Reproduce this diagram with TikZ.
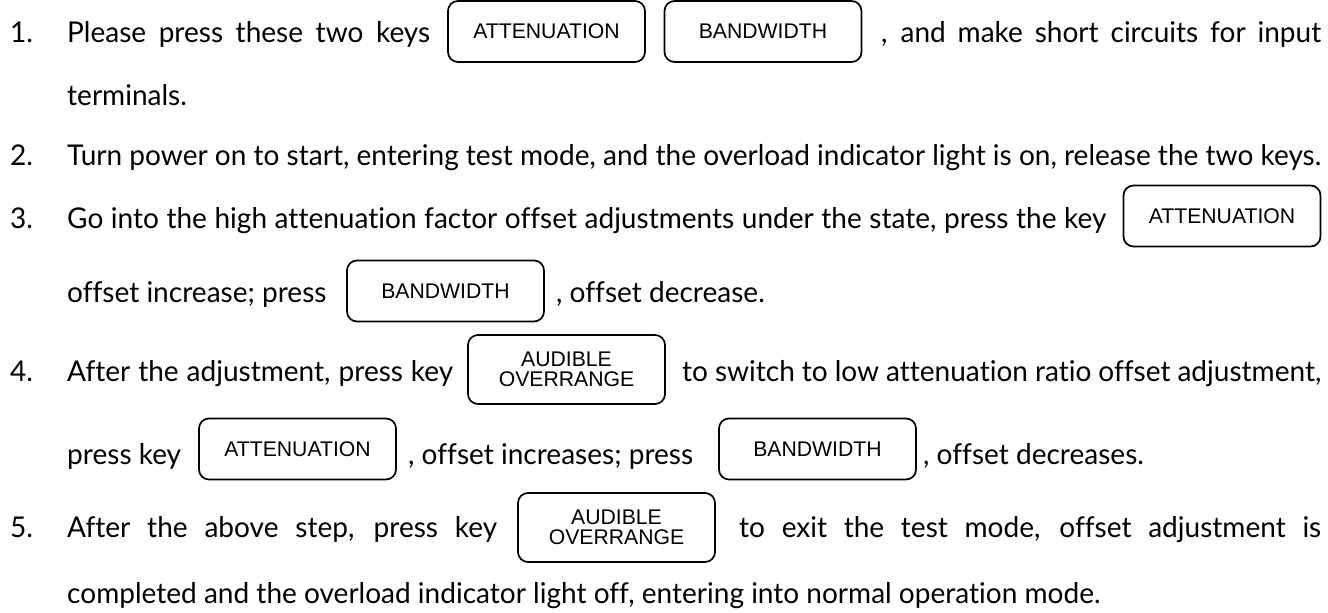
\documentclass[tikz,border=0pt]{standalone}
\usepackage{fontspec}
\setmainfont{Lato}[FakeStretch=0.98, Ligatures=NoCommon]
\newfontfamily\keyfont{Liberation Sans}
\usetikzlibrary{positioning}

\newcommand{\bodysize}{\fontsize{28.6}{34}\selectfont}

\tikzset{
	keybox/.style={draw, line width=1.7pt, rounded corners=10pt,
			minimum width=197pt, minimum height=61pt, inner sep=0pt,
			align=center, font=\keyfont\fontsize{21.2}{19.5}\selectfont},
	keyboxtall/.style={keybox, minimum height=69pt}
}
\tikzset{
	bodytext/.style={anchor=base west, inner sep=0pt, font=\bodysize}
}

\begin{document}
\begin{tikzpicture}[x=1pt, y=-1pt]

	\useasboundingbox (0,0) rectangle (1328,613);

	% the keys
	\node[keybox] (attA) at (546.5,31.5) {ATTENUATION};
	\node[keybox] (bwA) at (763,31.5) {BANDWIDTH};
	\node[keybox] (attB) at (1222,216) {ATTENUATION};
	\node[keybox] (bwB) at (445.5,291) {BANDWIDTH};
	\node[keyboxtall] (audA) at (566.5,369.5) {AUDIBLE\\OVERRANGE};
	\node[keybox] (attC) at (297.5,449) {ATTENUATION};
	\node[keybox] (bwC) at (817.5,449) {BANDWIDTH};
	\node[keyboxtall] (audB) at (616.5,527.5) {AUDIBLE\\OVERRANGE};

	% step 1
	\node[bodytext] (num1) at (10,42) {1.};
	\node[bodytext] (s1a) at (67,42) {\makebox[363pt][s]{Please press these two keys}};
	\node[bodytext] (s1b) at (881,42) {\makebox[440pt][s]{, and make short circuits for input}};
	\node[bodytext] (s1c) at (67,105) {terminals.};

	% step 2
	\node[bodytext] (num2) at (10,165) {2.};
	\node[bodytext] (s2a) at (67,165) {\makebox[1254pt][s]{Turn power on to start, entering test mode, and the overload indicator light is on, release the two keys.}};

	% step 3
	\node[bodytext] (num3) at (10,228) {3.};
	\node[bodytext] (s3a) at (67,228) {\makebox[1039pt][s]{Go into the high attenuation factor offset adjustments under the state, press the key}};
	\node[bodytext] (s3b) at (67,302) {offset increase; press};
	\node[bodytext] (s3c) at (556,302) {, offset decrease.};

	% step 4
	\node[bodytext] (num4) at (10,381) {4.};
	\node[bodytext] (s4a) at (67,381) {\makebox[386pt][s]{After the adjustment, press key}};
	\node[bodytext] (s4b) at (682,381) {\makebox[639pt][s]{to switch to low attenuation ratio offset adjustment,}};
	\node[bodytext] (s4c) at (67,464) {press key};
	\node[bodytext] (s4d) at (408,464) {, offset increases; press};
	\node[bodytext] (s4e) at (923,464) {, offset decreases.};

	% step 5
	\node[bodytext] (num5) at (10,537) {5.};
	\node[bodytext] (s5a) at (67,537) {\makebox[430pt][s]{After the above step, press key}};
	\node[bodytext] (s5b) at (739,537) {\makebox[582pt][s]{to exit the test mode, offset adjustment is}};
	\node[bodytext] (s5c) at (67,603) {completed and the overload indicator light off, entering into normal operation mode.};

\end{tikzpicture}
\end{document}
